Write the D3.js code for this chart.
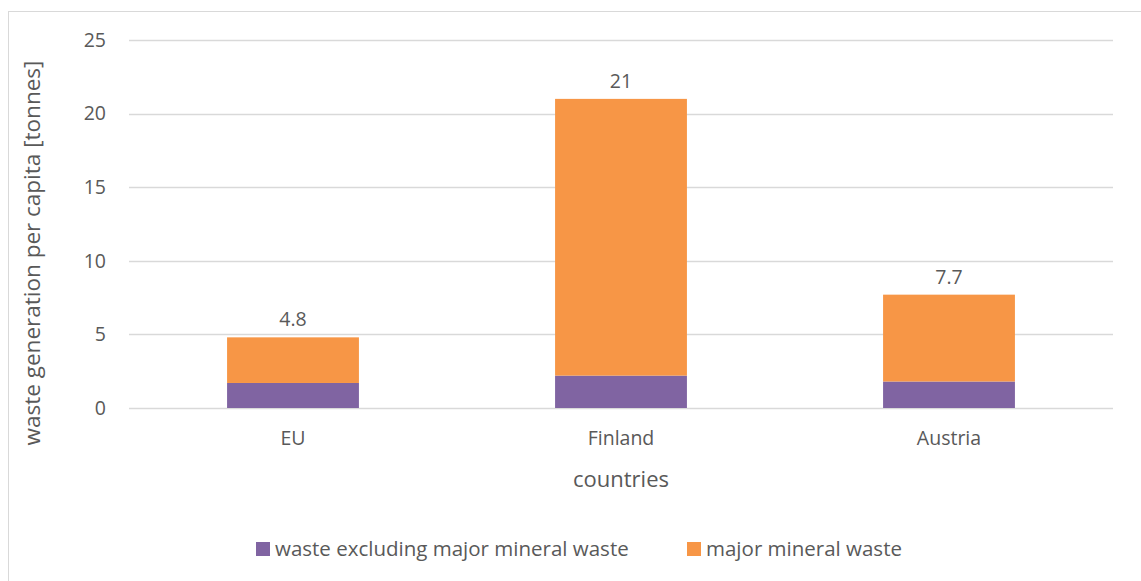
<!DOCTYPE html>
<html>
<head>
<meta charset="utf-8">
<script src="https://cdn.jsdelivr.net/npm/d3@7"></script>
<style>
  body { margin: 0; background: #fff; }
  text { font-family: "Open Sans", sans-serif; fill: #595959; }
</style>
</head>
<body>
<div id="container"></div>
<script>
// chart data
const countries = ["EU", "Finland", "Austria"];
const nonMineral = [1.7, 2.2, 1.8];
const mineral = [3.1, 18.8, 5.9];
const totals = ["4.8", "21", "7.7"];
const seriesNames = ["waste excluding major mineral waste", "major mineral waste"];
const yTicks = [0, 5, 10, 15, 20, 25];

const width = 1141, height = 581;
const colors = ["#8064A2", "#F79646"];

const svg = d3.select("#container").append("svg")
	.attr("width", width)
	.attr("height", height);

// outer chart border
svg.append("rect")
	.attr("x", 8.5).attr("y", 11.5)
	.attr("width", width + 10).attr("height", height + 10)
	.attr("fill", "none")
	.attr("stroke", "#d9d9d9");

const x = d3.scaleBand().domain(countries).range([129, 1113]).paddingInner(0.598).paddingOuter(0.299);
const y = d3.scaleLinear().domain([0, 25]).range([408, 40]);

// gridlines
svg.append("g")
	.selectAll("line")
	.data(yTicks)
	.join("line")
	.attr("x1", 129).attr("x2", 1113)
	.attr("y1", d => Math.round(y(d)) + 0.5)
	.attr("y2", d => Math.round(y(d)) + 0.5)
	.attr("stroke", "#d9d9d9")
	.attr("stroke-width", 1.5);

// y tick labels
svg.append("g")
	.selectAll("text")
	.data(yTicks)
	.join("text")
	.attr("x", 106)
	.attr("y", d => y(d))
	.attr("dy", "0.35em")
	.attr("text-anchor", "end")
	.attr("font-size", 19.5)
	.text(d => d);

// stacked bars
const rows = countries.map((c, i) => ({ country: c, nonMineral: nonMineral[i], mineral: mineral[i] }));
const stack = d3.stack().keys(["nonMineral", "mineral"])(rows);

svg.append("g")
	.selectAll("g")
	.data(stack)
	.join("g")
	.attr("fill", (d, i) => colors[i])
	.selectAll("rect")
	.data(d => d)
	.join("rect")
	.attr("x", d => x(d.data.country))
	.attr("y", d => y(d[1]))
	.attr("width", x.bandwidth())
	.attr("height", d => y(d[0]) - y(d[1]));

// total labels
svg.append("g")
	.selectAll("text")
	.data(rows)
	.join("text")
	.attr("x", d => x(d.country) + x.bandwidth() / 2)
	.attr("y", d => y(d.nonMineral + d.mineral) - 11)
	.attr("text-anchor", "middle")
	.attr("font-size", 19.5)
	.text((d, i) => totals[i]);

// x category labels
svg.append("g")
	.selectAll("text")
	.data(countries)
	.join("text")
	.attr("x", d => x(d) + x.bandwidth() / 2)
	.attr("y", 445)
	.attr("text-anchor", "middle")
	.attr("font-size", 19.5)
	.text(d => d);

// axis titles
svg.append("text")
	.attr("x", 621).attr("y", 487)
	.attr("text-anchor", "middle")
	.attr("font-size", 22)
	.text("countries");

svg.append("text")
	.attr("transform", "translate(40,253) rotate(-90)")
	.attr("text-anchor", "middle")
	.attr("font-size", 22.5)
	.text("waste generation per capita [tonnes]");

// legend
const legendX = [256, 687];
const legend = svg.append("g")
	.selectAll("g")
	.data(seriesNames)
	.join("g")
	.attr("transform", (d, i) => `translate(${legendX[i]},549)`);

legend.append("rect")
	.attr("x", 0).attr("y", -7)
	.attr("width", 14).attr("height", 14)
	.attr("fill", (d, i) => colors[i]);

legend.append("text")
	.attr("x", 19)
	.attr("dy", "0.35em")
	.attr("font-size", 20.5)
	.text(d => d);
</script>
</body>
</html>
